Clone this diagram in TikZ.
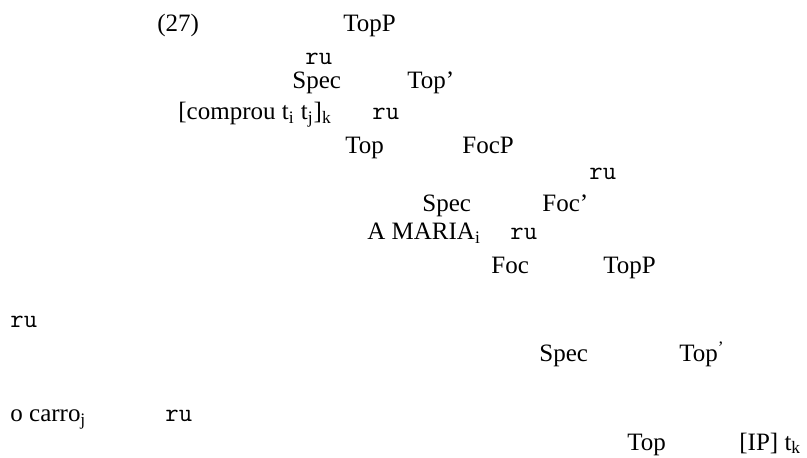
\documentclass[tikz,border=0pt]{standalone}
\usepackage{fontspec}
\setmainfont{Liberation Serif}

\begin{document}
\begin{tikzpicture}[x=0.5pt, y=-0.5pt,
  lbl/.style={anchor=base west, inner sep=0pt, font=\fontsize{12.5}{15}\selectfont},
  br/.style={lbl, font=\fontsize{13}{15}\selectfont\ttfamily}]
  \useasboundingbox (0,0) rectangle (807,458);

  % Top layer
  \node[lbl] (num) at (157,32) {(27)};
  \node[lbl] (topp) at (343,32) {TopP};
  \node[br] (ruA) at (305,65) {ru};
  \node[lbl] (specA) at (292,89) {Spec};
  \node[lbl] (topbarA) at (407,89) {Top’};
  \node[lbl] (comprou) at (178,120) {[comprou t\textsubscript{i} t\textsubscript{j}]\textsubscript{k}};
  \node[br] (ruB) at (372,120) {ru};
  \node[lbl] (topA) at (345,154) {Top};
  \node[lbl] (focp) at (462,154) {FocP};

  % Focus layer
  \node[br] (ruC) at (589,180) {ru};
  \node[lbl] (specB) at (422,212) {Spec};
  \node[lbl] (focbar) at (542,212) {Foc’};
  \node[lbl] (maria) at (367,240) {A MARIA\textsubscript{i}};
  \node[br] (ruD) at (510,240) {ru};
  \node[lbl] (foc) at (491,274) {Foc};
  \node[lbl] (toppB) at (603,274) {TopP};

  % Lower topic layer
  \node[br] (ruE) at (10,328) {ru};
  \node[lbl] (specC) at (539,362) {Spec};
  \node[lbl] (topbarB) at (679,362) {Top\textsuperscript{’}};
  \node[lbl] (carro) at (10,422) {o carro\textsubscript{j}};
  \node[br] (ruF) at (165,422) {ru};
  \node[lbl] (topB) at (627,450) {Top};
  \node[lbl] (ip) at (739,450) {[IP] t\textsubscript{k}};
\end{tikzpicture}
\end{document}
